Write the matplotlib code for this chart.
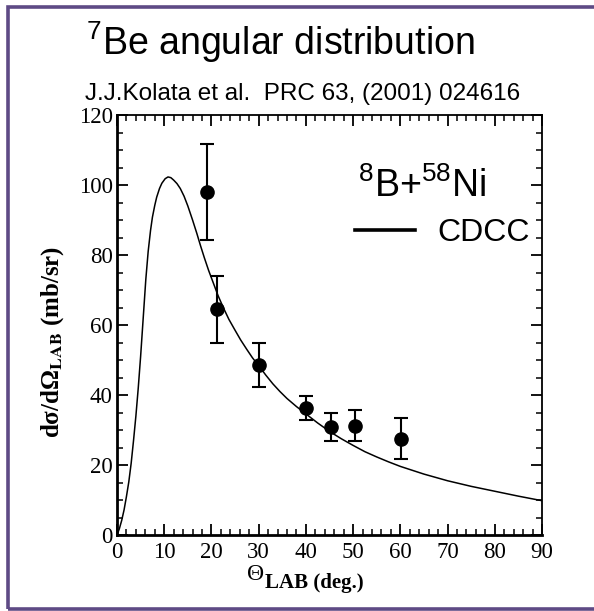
import matplotlib
matplotlib.use("Agg")
import matplotlib.pyplot as plt
from matplotlib.patches import Rectangle

plt.rcParams['mathtext.fontset'] = 'custom'
plt.rcParams['mathtext.rm'] = 'Liberation Sans'
plt.rcParams['mathtext.it'] = 'Liberation Sans:italic'
plt.rcParams['mathtext.bf'] = 'Liberation Sans:bold'

# 7Be angular distribution, 8B + 58Ni (Kolata et al., PRC 63 (2001) 024616)
theta_exp = [19.1, 21.1, 30.1, 40.1, 45.3, 50.3, 60.2]
sigma_exp = [98.0, 64.5, 48.6, 36.3, 31.0, 31.2, 27.5]
sigma_err = [13.7, 9.6, 6.4, 3.4, 4.0, 4.4, 5.8]

# CDCC calculation
theta_cdcc = [0, 0.5, 1.0, 1.5, 2.0, 2.5, 3.0, 3.5, 4.0, 4.5, 5.0, 5.6, 6.1, 6.6,
              7.1, 7.5, 8.0, 8.4, 9.0, 9.5, 10.2, 10.8, 11.4, 12.0, 12.7, 13.4,
              14.2, 15.0, 16.0, 16.9, 17.7, 18.5, 19.4, 20.4, 21.4, 22.5, 23.7,
              25.0, 26.2, 27.5, 28.7, 30.0, 31.5, 33.0, 34.5, 36.0, 38.0, 40.0,
              42.5, 45.0, 47.5, 50.0, 52.5, 55.0, 57.5, 60.0, 65.0, 70.0, 75.0,
              80.0, 85.0, 90.0]
sigma_cdcc = [0, 1.8, 4.2, 7.2, 11.0, 15.2, 20.5, 27.0, 34.0, 42.0, 51.0, 63.0,
              73.0, 81.0, 87.0, 90.8, 94.2, 96.5, 99.0, 100.5, 101.8, 102.3, 102.1,
              101.4, 100.4, 99.0, 96.8, 94.0, 90.0, 86.2, 82.6, 79.2, 75.6, 72.0,
              68.4, 65.0, 61.6, 58.5, 55.7, 53.0, 50.6, 48.4, 45.7, 43.2, 41.0,
              39.0, 36.7, 34.6, 32.0, 29.6, 27.5, 25.6, 23.8, 22.3, 20.9, 19.6,
              17.4, 15.5, 13.9, 12.5, 11.1, 9.8]

x_ticks = [0, 10, 20, 30, 40, 50, 60, 70, 80, 90]
y_ticks = [0, 20, 40, 60, 80, 100, 120]

fig = plt.figure(figsize=(5.94, 6.11), dpi=100)
ax = fig.add_axes([117 / 594, 1 - 535 / 611, 425 / 594, 420 / 611])

line, = ax.plot(theta_cdcc, sigma_cdcc, color='black', lw=1.1, label='CDCC')
ax.errorbar(theta_exp, sigma_exp, yerr=sigma_err, fmt='o', color='black',
            ms=9.5, elinewidth=1.5, capsize=4.7, capthick=1.5)

ax.set_xlim(0, 90)
ax.set_ylim(0, 120)
ax.set_xticks(x_ticks)
ax.set_yticks(y_ticks)
ax.set_xticks(range(0, 91, 2), minor=True)
ax.set_yticks(range(0, 121, 5), minor=True)
ax.tick_params(which='both', direction='in', top=True, right=True, colors='black')
ax.tick_params(which='major', length=8, width=1.3, pad=3)
ax.tick_params(which='minor', length=4.5, width=1.1)
ax.tick_params(axis='x', which='major', pad=5)
for lab in ax.get_xticklabels() + ax.get_yticklabels():
    lab.set_fontfamily('Liberation Serif')
    lab.set_fontsize(16.5)
for side in ['left', 'bottom']:
    ax.spines[side].set_linewidth(2.0)
for side in ['top', 'right']:
    ax.spines[side].set_linewidth(1.3)

# axis labels in bold serif
fig.text(53 / 594, 1 - 342 / 611, 'd\u03c3/d\u03a9$_{\\mathbf{LAB}}$ (mb/sr)',
         rotation=90, ha='center', va='center', fontsize=18,
         fontfamily='Liberation Serif', fontweight='bold', math_fontfamily='stix')
fig.text(264 / 594, 1 - 580 / 611, '\u0398', ha='right', va='baseline',
         fontsize=17, fontfamily='Liberation Serif')
fig.text(265 / 594, 1 - 588 / 611, 'LAB (deg.)', ha='left', va='baseline',
         fontsize=15, fontfamily='Liberation Serif', fontweight='bold')

# titles
fig.text(280 / 594, 1 - 55 / 611, '$^{7}$Be angular distribution',
         ha='center', va='baseline', fontsize=27, fontfamily='Liberation Sans')
fig.text(303 / 594, 1 - 100 / 611, 'J.J.Kolata et al.  PRC 63, (2001) 024616',
         ha='center', va='baseline', fontsize=17.5, fontfamily='Liberation Sans')

ax.text(0.567, 0.805, '$^{8}$B+$^{58}$Ni', transform=ax.transAxes,
        ha='left', va='baseline', fontsize=27, fontfamily='Liberation Sans')

leg = ax.legend(handles=[line], loc='center left', bbox_to_anchor=(0.56, 0.719),
                frameon=False, borderpad=0, borderaxespad=0, handlelength=1.88,
                handletextpad=0.69, prop={'family': 'Liberation Sans', 'size': 23})
leg.get_lines()[0].set_linewidth(2.6)

# slide frame
fig.patches.append(Rectangle((7.5 / 594, 1 - 609 / 611), 1.0, (609 - 7) / 611,
                             transform=fig.transFigure, fill=False,
                             edgecolor='#5E4A85', linewidth=2.6, clip_on=False))

fig.savefig('out.png', dpi=100)
